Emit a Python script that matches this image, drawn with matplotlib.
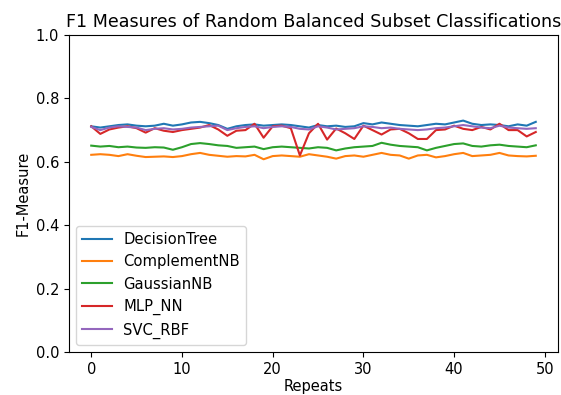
import matplotlib
matplotlib.use("Agg")
import matplotlib.pyplot as plt
import numpy as np

repeats = list(range(50))
decision_tree = [.712, .708, .712, .716, .718, .714, .712, .714, .720, .714,
                 .718, .724, .726, .722, .716, .704, .712, .716, .718, .714,
                 .716, .718, .716, .712, .708, .716, .712, .714, .710, .712,
                 .722, .718, .724, .720, .716, .714, .712, .716, .720, .718,
                 .724, .730, .720, .716, .718, .716, .712, .718, .714, .726]
complement_nb = [.622, .624, .622, .618, .624, .619, .615, .616, .617, .615,
                 .618, .624, .628, .622, .619, .616, .618, .617, .622, .608,
                 .618, .620, .618, .616, .624, .620, .616, .610, .618, .620,
                 .616, .622, .628, .622, .620, .610, .620, .622, .614, .618,
                 .624, .628, .618, .620, .622, .628, .620, .618, .617, .619]
gaussian_nb = [.651, .648, .650, .646, .648, .645, .644, .646, .645, .638,
               .646, .656, .659, .656, .652, .650, .644, .646, .648, .640,
               .646, .648, .646, .644, .642, .646, .644, .636, .642, .646,
               .648, .650, .660, .654, .650, .648, .646, .636, .644, .650,
               .656, .658, .650, .648, .652, .654, .650, .648, .646, .652]
mlp_nn = [.712, .688, .702, .708, .712, .706, .692, .706, .698, .694,
          .700, .704, .708, .716, .702, .682, .698, .700, .720, .676,
          .712, .714, .706, .620, .690, .720, .670, .705, .690, .672,
          .714, .700, .686, .702, .704, .690, .672, .672, .700, .702,
          .714, .704, .700, .710, .702, .720, .700, .700, .680, .694]
svc_rbf = [.710, .700, .708, .712, .710, .708, .700, .704, .706, .702,
           .704, .708, .710, .712, .714, .700, .706, .710, .712, .706,
           .710, .712, .710, .704, .702, .712, .708, .702, .704, .706,
           .712, .710, .706, .708, .704, .702, .700, .702, .706, .708,
           .712, .716, .712, .708, .706, .714, .708, .706, .704, .706]

series = [("DecisionTree", decision_tree), ("ComplementNB", complement_nb),
          ("GaussianNB", gaussian_nb), ("MLP_NN", mlp_nn), ("SVC_RBF", svc_rbf)]

fig = plt.figure(figsize=(5.61, 3.95), dpi=100)
ax = fig.add_axes([69/561, 43/395, 489/561, 317/395])
for name, vals in series:
    ax.plot(repeats, vals, label=name, linewidth=1.5)
ax.set_ylim(0.0, 1.0)
ax.tick_params(labelsize=10.5)
ax.set_title("F1 Measures of Random Balanced Subset Classifications", fontsize=12.6)
ax.set_xlabel("Repeats", fontsize=10.5, labelpad=2)
ax.set_ylabel("F1-Measure", fontsize=10.5)
ax.legend(loc="lower left", fontsize=10.6)
fig.savefig("out.png", dpi=100)
